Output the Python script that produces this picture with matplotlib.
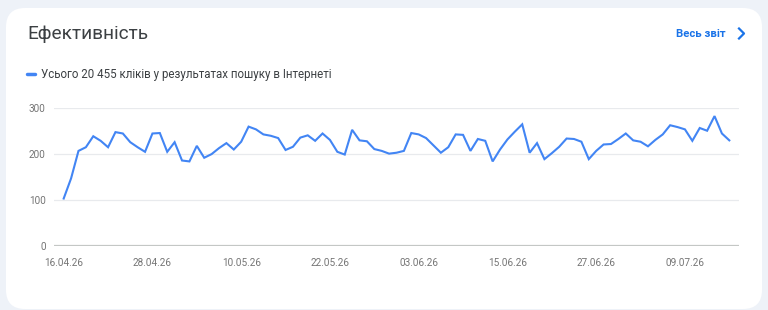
import matplotlib
matplotlib.use("Agg")
import numpy as np
import matplotlib.pyplot as plt
from matplotlib.patches import FancyBboxPatch

# daily clicks, 16.04.26 .. 15.07.26
clicks = [103, 147, 207, 215, 239, 229, 215, 248, 245, 226,
          215, 205, 245, 246, 205, 226, 186, 184, 218, 192,
          200, 213, 224, 210, 227, 260, 254, 243, 240, 235,
          209, 216, 236, 241, 229, 245, 231, 205, 199, 253,
          230, 228, 211, 207, 201, 203, 207, 246, 243, 235,
          219, 203, 215, 243, 242, 207, 233, 229, 184, 210,
          232, 249, 265, 203, 224, 189, 202, 216, 234, 233,
          227, 189, 207, 221, 222, 233, 245, 230, 227, 217,
          231, 243, 263, 259, 254, 229, 257, 251, 283, 245,
          230]
tick_pos = [0, 12, 24, 36, 48, 60, 72, 84]
tick_labels = ["16.04.26", "28.04.26", "10.05.26", "22.05.26",
               "03.06.26", "15.06.26", "27.06.26", "09.07.26"]
y_ticks = [0, 100, 200, 300]

W, H = 768, 310
fig = plt.figure(figsize=(W / 100, H / 100), dpi=100)
fig.patch.set_facecolor("#eef2f8")
plt.rcParams['font.family'] = ['Roboto', 'DejaVu Sans']

# white card
card = FancyBboxPatch((6 / W, 1 / H), 756 / W, 301 / H,
                      boxstyle="round,pad=0,rounding_size=0.025",
                      transform=fig.transFigure, facecolor="white",
                      edgecolor="none", mutation_aspect=W / H, zorder=-10)
fig.patches.append(card)

fig.text(27 / W, 1 - 34 / H, "Ефективність", fontsize=13.7, color="#3c4043",
         va="center", ha="left")
fig.text(726 / W, 1 - 34 / H, "Весь звіт", fontsize=8.2, color="#1a73e8",
         fontweight="bold", va="center", ha="right")
# chevron
fig.add_artist(plt.Line2D([739 / W, 744 / W, 739 / W],
                          [1 - 28.5 / H, 1 - 33.5 / H, 1 - 38.5 / H],
                          color="#1a73e8", linewidth=1.6,
                          transform=fig.transFigure))

# legend dash + text
fig.add_artist(plt.Line2D([27 / W, 35 / W], [1 - 74 / H, 1 - 74 / H],
                          color="#4285f4", linewidth=2.5,
                          transform=fig.transFigure, solid_capstyle="round"))
fig.text(41 / W, 1 - 74 / H, "Усього 20 455 кліків у результатах пошуку в Інтернеті",
         fontsize=8.3, color="#3c4043", va="center", ha="left")

ax = fig.add_axes([54 / W, (H - 245.7) / H, (739 - 54) / W, (245.7 - 108.3) / H])
x = np.arange(len(clicks))
ax.plot(x, clicks, color="#4285f4", linewidth=1.5, clip_on=False,
        solid_joinstyle="miter")
ax.set_xlim(-1.31, len(clicks) - 1 + 1.31)
ax.set_ylim(0, 300)
ax.set_yticks(y_ticks)
ax.set_xticks(tick_pos)
ax.set_xticklabels(tick_labels)
ax.grid(axis="y", color="#e8eaed", linewidth=0.9)
ax.axhline(0, color="#c4c7c5", linewidth=1.6)
for s in ax.spines.values():
    s.set_visible(False)
ax.tick_params(length=0, labelsize=7.2, labelcolor="#757575")
ax.tick_params(axis="y", pad=6)
ax.tick_params(axis="x", pad=9)
ax.set_facecolor("none")
ax.set_axisbelow(True)

fig.savefig("out.png", dpi=100, facecolor=fig.get_facecolor())
